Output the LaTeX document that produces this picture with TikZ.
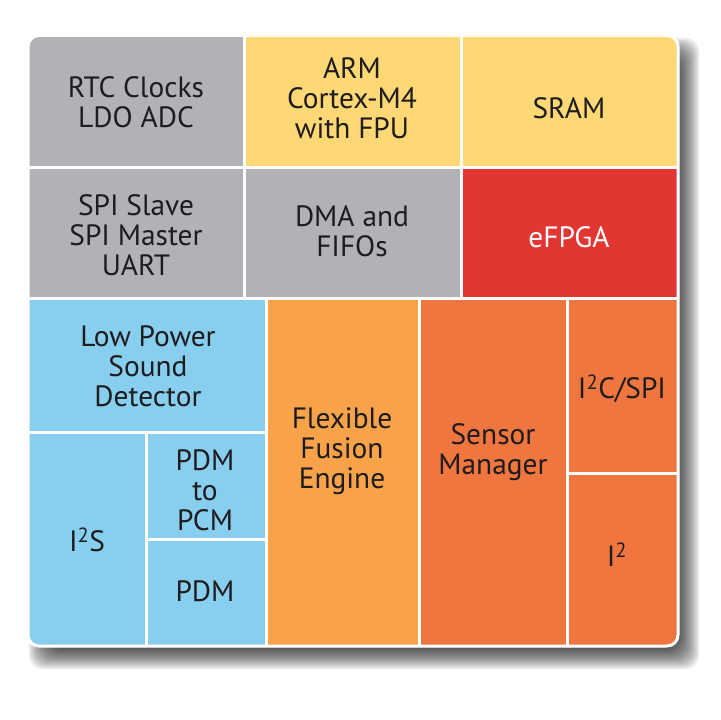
\documentclass[tikz,border=0pt]{standalone}
\usepackage{fontspec}
\setmainfont{PT Sans}
\definecolor{cgray}{RGB}{177,178,181}
\definecolor{cyel}{RGB}{254,216,116}
\definecolor{cred}{RGB}{226,54,50}
\definecolor{cblue}{RGB}{136,206,238}
\definecolor{corl}{RGB}{248,163,74}
\definecolor{cord}{RGB}{240,118,64}
\definecolor{ctxt}{RGB}{30,28,30}
\tikzset{
  cell/.style={draw=white, line width=3bp},
  lbl/.style={font=\fontsize{29.5}{30}\selectfont, text=ctxt, align=center, inner sep=0pt},
}
\begin{document}
\begin{tikzpicture}[x=1bp,y=-1bp]
\useasboundingbox (0,0) rectangle (720,720);
\fill[white] (0,0) rectangle (720,720);
% shadow
\foreach \i in {0,...,10} {
  \pgfmathsetmacro\e{11-2*\i}
  \fill[black, opacity=0.085, rounded corners=14bp]
    (29+11-\e, 36+13-\e) rectangle (677+11+\e, 645+13+\e);
}
\fill[white, rounded corners=12bp] (27,34.5) rectangle (679,647);
\begin{scope}
  \clip[rounded corners=11bp] (28,35.5) rectangle (678,646);
  % top rows
  \filldraw[cell, fill=cgray] (20,20) rectangle (244,167);
  \filldraw[cell, fill=cyel] (244,20) rectangle (461.5,167);
  \filldraw[cell, fill=cyel] (461.5,20) rectangle (690,167);
  \filldraw[cell, fill=cgray] (20,167) rectangle (244,298.5);
  \filldraw[cell, fill=cgray] (244,167) rectangle (461.5,298.5);
  \filldraw[cell, fill=cred] (461.5,167) rectangle (690,298.5);
  % blue block
  \filldraw[cell, fill=cblue] (20,298.5) rectangle (266.5,432.5);
  \filldraw[cell, fill=cblue] (20,432.5) rectangle (146.5,660);
  \filldraw[cell, fill=cblue] (146.5,432.5) rectangle (266.5,539);
  \filldraw[cell, fill=cblue] (146.5,539) rectangle (266.5,660);
  % orange block
  \filldraw[cell, fill=corl] (266.5,298.5) rectangle (419,660);
  \filldraw[cell, fill=cord] (419,298.5) rectangle (567,660);
  \filldraw[cell, fill=cord] (567,298.5) rectangle (690,473.5);
  \filldraw[cell, fill=cord] (567,473.5) rectangle (690,660);
\end{scope}
\draw[white, line width=3bp, rounded corners=11bp] (28,35.5) rectangle (678,646);
% labels
\node[lbl] (rtc) at (136,102) {RTC Clocks\\LDO ADC};
\node[lbl] (arm) at (352,98) {ARM\\Cortex-M4\\with FPU};
\node[lbl] (sram) at (569,108) {SRAM};
\node[lbl] (spi) at (136,235) {SPI Slave\\SPI Master\\UART};
\node[lbl] (dma) at (352,231) {DMA and\\FIFOs};
\node[lbl, text=white] (efpga) at (569,237) {eFPGA};
\node[lbl] (lpsd) at (148,366) {Low Power\\Sound\\Detector};
\node[lbl] (flex) at (342,451) {Flexible\\Fusion\\Engine};
\node[lbl] (sens) at (493,452) {Sensor\\Manager};
\node[lbl] (i2c) at (622,389) {I\textsuperscript{2}C/SPI};
\node[lbl] (i2) at (617,555) {I\textsuperscript{2}};
\node[lbl] (i2s) at (87,540) {I\textsuperscript{2}S};
\node[lbl] (pdmpcm) at (205,490) {PDM\\to\\PCM};
\node[lbl] (pdm) at (205,591) {PDM};
\end{tikzpicture}
\end{document}
